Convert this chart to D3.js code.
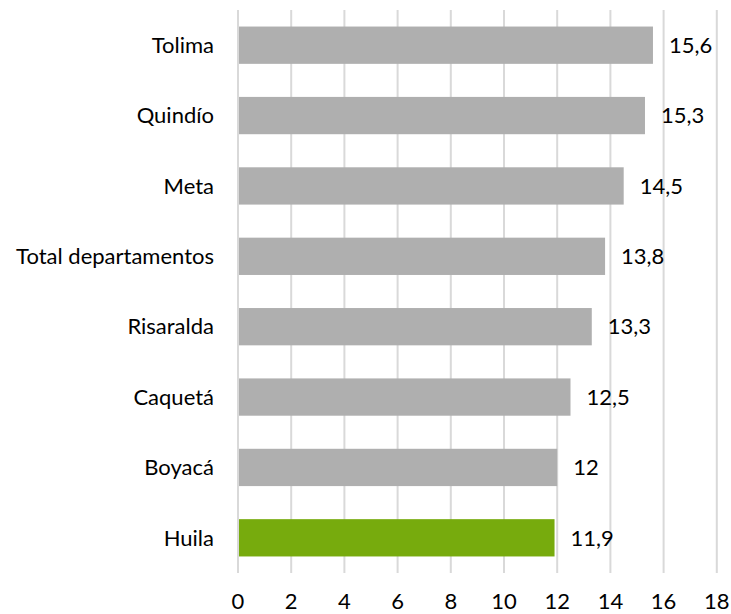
<!DOCTYPE html>
<html><head><meta charset="utf-8">
<script src="https://cdn.jsdelivr.net/npm/d3@7"></script>
<style>body{margin:0;background:#fff}svg{display:block}text{font-family:Lato,"Open Sans",sans-serif;fill:#000}</style>
</head><body>
<svg id="c" width="731" height="614"></svg>
<script>
const categories = ["Tolima","Quindío","Meta","Total departamentos","Risaralda","Caquetá","Boyacá","Huila"];
const values = [15.6,15.3,14.5,13.8,13.3,12.5,12,11.9];
const highlight = ["Huila"];
const xTicks = [0,2,4,6,8,10,12,14,16,18];

const svg = d3.select("#c");
const m = {left:238, right:14, top:10, bottom:41};
const W = 731, H = 614;
const FS = 22;
const x = d3.scaleLinear().domain([0,18]).range([m.left, m.left + 18*26.6]);
const y = d3.scaleBand().domain(categories).range([m.top, H - m.bottom]).paddingInner(0.47).paddingOuter(0.235);

// gridlines
svg.append("g").selectAll("line").data(xTicks).join("line")
  .attr("x1", d=>x(d)).attr("x2", d=>x(d))
  .attr("y1", m.top).attr("y2", H - m.bottom)
  .attr("stroke", "#d9d9d9").attr("stroke-width", 2);

// bars
svg.append("g").selectAll("rect").data(categories).join("rect")
  .attr("x", x(0)+1).attr("y", d=>y(d))
  .attr("width", (d,i)=>x(values[i]) - x(0) - 1)
  .attr("height", y.bandwidth())
  .attr("fill", d=> highlight.includes(d) ? "#77ab0d" : "#afafaf");

// value labels
const fmt = v => String(v).replace(".", ",");
svg.append("g").selectAll("text").data(categories).join("text")
  .attr("x", (d,i)=>x(values[i]) + 16)
  .attr("y", d=>y(d) + y.bandwidth()/2)
  .attr("dy", "0.35em")
  .attr("font-size", FS)
  .text((d,i)=>fmt(values[i]));

// category labels
svg.append("g").selectAll("text").data(categories).join("text")
  .attr("x", m.left - 24)
  .attr("y", d=>y(d) + y.bandwidth()/2)
  .attr("dy", "0.35em")
  .attr("text-anchor", "end")
  .attr("font-size", FS)
  .text(d=>d);

// x tick labels
svg.append("g").selectAll("text").data(xTicks).join("text")
  .attr("x", d=>x(d))
  .attr("y", 609)
  .attr("text-anchor", "middle")
  .attr("font-size", FS)
  .text(d=>d);
</script>
</body></html>
